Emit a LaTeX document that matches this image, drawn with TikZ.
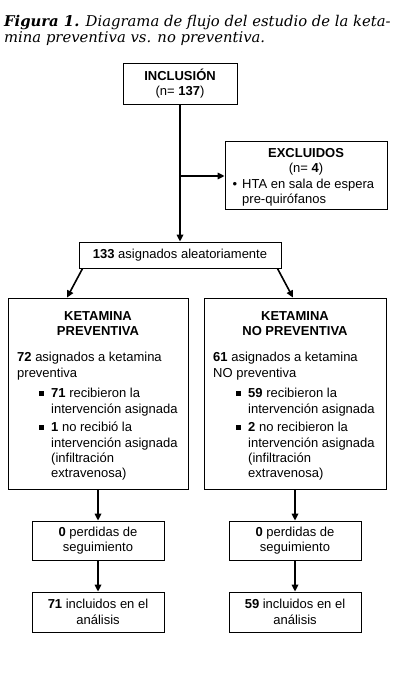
\documentclass[tikz,border=0pt]{standalone}
\usepackage{fontspec}
\setmainfont{Liberation Sans}
\newfontfamily\titlefont{DejaVu Serif}
\usetikzlibrary{arrows.meta}
\newcommand{\sqbul}{\llap{\raisebox{1.9pt}{\rule{5pt}{5pt}}\hspace{7pt}}}
\begin{document}
\begin{tikzpicture}[x=1pt,y=-1pt,
  box/.style={draw, line width=0.8pt, inner sep=0pt},
  arr/.style={line width=1.6pt, -{Triangle[length=7pt,width=6.5pt]}},
  txt/.style={font=\fontsize{13}{15.4}\selectfont, inner sep=0pt},
  ttl/.style={font=\titlefont\fontsize{14.8}{17}\selectfont, inner sep=0pt, anchor=base west}]
\fill[white] (0,0) rectangle (414,695);
\useasboundingbox (0,0) rectangle (414,695);
% title
\node[ttl] (t1) at (4,27) {\textbf{\textit{Figura 1.}} \textit{Diagrama de flujo del estudio de la keta-}};
\node[ttl] (t2) at (4,43) {\textit{mina preventiva vs. no preventiva.}};
% boxes
\node[box, minimum width=114, minimum height=41] (inc) at (180,83.5) {};
\node[txt, align=center] (inct) at (inc.center) {\textbf{INCLUSIÓN}\\(n= \textbf{137})};
\node[box, minimum width=162, minimum height=68] (exc) at (306,175) {};
\node[txt, align=center, anchor=north] (exct) at (306,148) {\textbf{EXCLUIDOS}\\(n= \textbf{4})};
\node[txt, align=left, anchor=north west] (excb) at (242,178.5) {\llap{\textbullet\hspace{5pt}}HTA en sala de espera\\pre-quirófanos};
\node[box, minimum width=202, minimum height=26] (asg) at (180,255) {};
\node[txt] (asgt) at (asg.center) {\textbf{133} asignados aleatoriamente};
% big boxes
\node[box, minimum width=180, minimum height=191] (kp) at (98,393.5) {};
\node[box, minimum width=182, minimum height=191] (knp) at (295,393.5) {};
\node[txt, align=center, anchor=north] (kpt) at (98,311) {\textbf{KETAMINA}\\\textbf{PREVENTIVA}};
\node[txt, align=center, anchor=north] (knpt) at (295,311) {\textbf{KETAMINA}\\\textbf{NO PREVENTIVA}};
\node[txt, align=left, anchor=north west] (kpa) at (17,352) {\textbf{72} asignados a ketamina\\preventiva};
\node[txt, align=left, anchor=north west] (kpb) at (51,388) {\sqbul\textbf{71} recibieron la\\intervención asignada};
\node[txt, align=left, anchor=north west] (kpc) at (51,422) {\sqbul\textbf{1} no recibió la\\intervención asignada\\(infiltración\\extravenosa)};
\node[txt, align=left, anchor=north west] (knpa) at (213,352) {\textbf{61} asignados a ketamina\\NO preventiva};
\node[txt, align=left, anchor=north west] (knpb) at (248,388) {\sqbul\textbf{59} recibieron la\\intervención asignada};
\node[txt, align=left, anchor=north west] (knpc) at (248,422) {\sqbul\textbf{2} no recibieron la\\intervención asignada\\(infiltración\\extravenosa)};
% lower boxes
\node[box, minimum width=132, minimum height=39, txt, align=center] (l1) at (98,540.5) {\textbf{0} perdidas de\\seguimiento};
\node[box, minimum width=132, minimum height=40, txt, align=center] (l2) at (98,612) {\textbf{71} incluidos en el\\análisis};
\node[box, minimum width=132, minimum height=39, txt, align=center] (r1) at (295,540.5) {\textbf{0} perdidas de\\seguimiento};
\node[box, minimum width=132, minimum height=40, txt, align=center] (r2) at (295,612) {\textbf{59} incluidos en el\\análisis};
% connectors
\draw[arr] (inc.south) -- (asg.north);
\coordinate (br) at (180,176);
\draw[arr] (br) -- (br -| exc.west);
\draw[arr] ([xshift=4pt]asg.south west) -- ([xshift=-31pt]kp.north);
\draw[arr] ([xshift=-4pt]asg.south east) -- ([xshift=-2pt]knp.north);
\draw[arr] (kp.south) -- (l1.north);
\draw[arr] (l1.south) -- (l2.north);
\draw[arr] (knp.south) -- (r1.north);
\draw[arr] (r1.south) -- (r2.north);
\end{tikzpicture}
\end{document}
